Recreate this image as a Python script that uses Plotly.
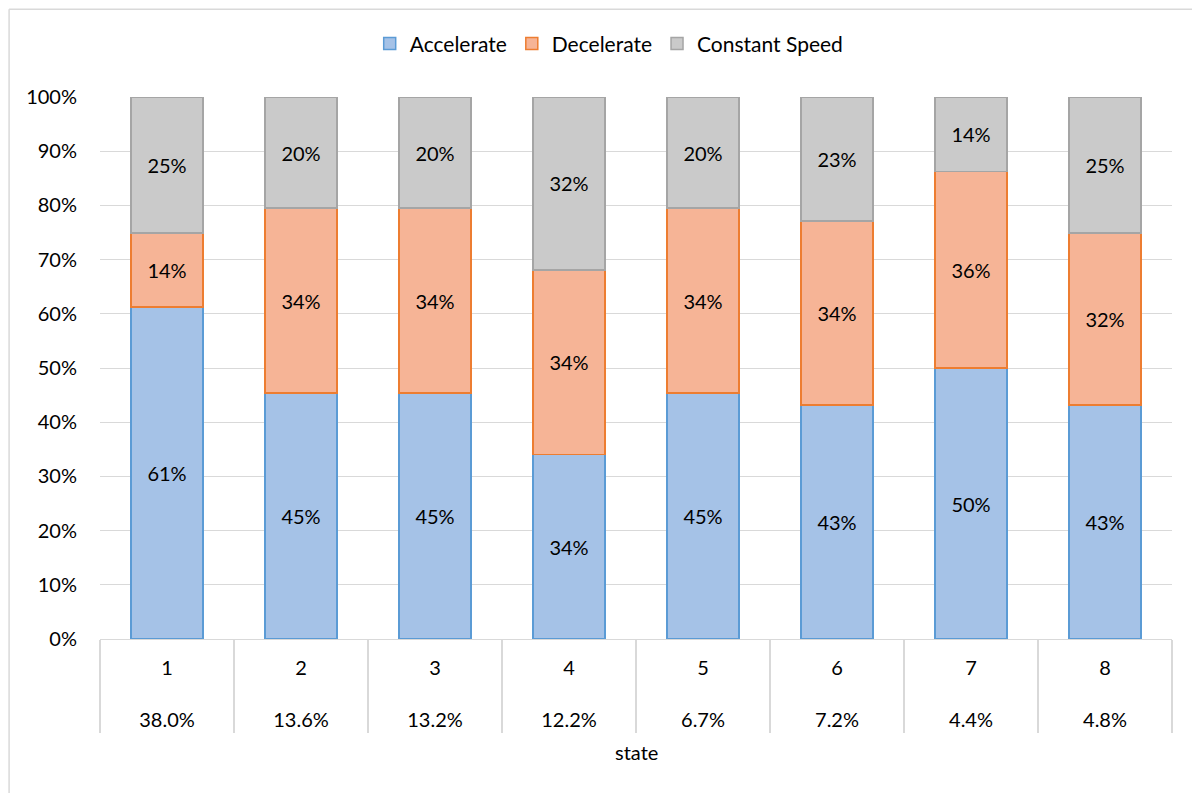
import plotly.graph_objects as go

states = ["1", "2", "3", "4", "5", "6", "7", "8"]
state_share = ["38.0%", "13.6%", "13.2%", "12.2%", "6.7%", "7.2%", "4.4%", "4.8%"]
accelerate = [61.3, 45.4, 45.4, 34.0, 45.4, 43.2, 50.0, 43.2]
decelerate = [13.6, 34.1, 34.1, 34.1, 34.1, 33.9, 36.3, 31.7]
constant_speed = [25.1, 20.4, 20.4, 31.9, 20.4, 22.9, 13.7, 25.1]

FONT = "Lato, Carlito, Calibri, sans-serif"
tick_text = [f"{s}<br><br>{p}" for s, p in zip(states, state_share)]

series = [
    ("Accelerate", accelerate, "#a5c2e7", "#5b9bd5"),
    ("Decelerate", decelerate, "#f6b496", "#ed7d31"),
    ("Constant Speed", constant_speed, "#cacaca", "#a5a5a5"),
]

fig = go.Figure()
for name, vals, fill, line in series:
    fig.add_trace(go.Bar(
        x=states, y=vals, name=name,
        marker=dict(color=fill, line=dict(color=line, width=1.5)),
        text=[f"{v:.0f}%" for v in vals],
        textposition="inside", insidetextanchor="middle", textangle=0,
        constraintext="none",
        textfont=dict(family=FONT, size=20, color="#000000"),
        width=0.54,
    ))

fig.update_layout(
    barmode="stack",
    width=1200, height=793,
    margin=dict(l=92, r=36, t=89, b=162),
    paper_bgcolor="white", plot_bgcolor="white",
    font=dict(family=FONT, size=20, color="#000000"),
    legend=dict(orientation="h", x=0.475, xanchor="center", y=1.098, yanchor="middle",
                font=dict(size=21), itemclick=False, traceorder="normal"),
    showlegend=True,
)
fig.update_yaxes(
    range=[0, 100], dtick=10, ticksuffix="%", showgrid=True, gridcolor="#d9d9d9", gridwidth=1,
    zeroline=False, showline=False, ticks="", ticklabelstandoff=22,
    tickfont=dict(size=20),
)
fig.update_xaxes(
    type="category", tickmode="array", tickvals=states, ticktext=tick_text,
    showline=True, linecolor="#d9d9d9", linewidth=1,
    ticks="outside", tickson="boundaries", ticklen=93, tickcolor="#d9d9d9", tickwidth=1.5,
    ticklabelstandoff=11,
    tickfont=dict(size=20),
    automargin=False,
)
fig.add_annotation(text="state", xref="paper", yref="paper", x=0.5, y=-0.2085,
                   showarrow=False, font=dict(size=20), yanchor="middle")
# chart-area border (top and left edges visible)
fig.add_shape(type="line", xref="paper", yref="paper", x0=-0.0848, x1=1.1, y0=1.162, y1=1.162,
              line=dict(color="#d9d9d9", width=1.5))
fig.add_shape(type="line", xref="paper", yref="paper", x0=-0.0848, x1=-0.0848, y0=1.162, y1=-0.35,
              line=dict(color="#d9d9d9", width=1.5))

fig.write_html("out.html")
